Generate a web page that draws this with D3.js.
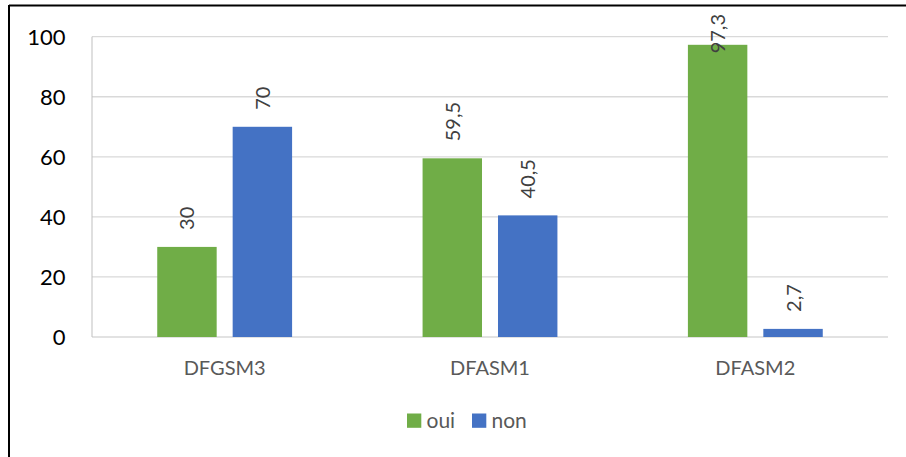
<!DOCTYPE html>
<html><head><meta charset="utf-8">
<script src="https://cdn.jsdelivr.net/npm/d3@7"></script>
<style>body{margin:0;background:#fff}svg{display:block}</style>
</head><body>
<script>
const categories = ["DFGSM3", "DFASM1", "DFASM2"];
const seriesNames = ["oui", "non"];
const oui = [30, 59.5, 97.3];
const non = [70, 40.5, 2.7];
const yTicks = [0, 20, 40, 60, 80, 100];
const colors = ["#70AD47", "#4472C4"];

(function () {
const W = 906, H = 457;
const svg = d3.select("body").append("svg").attr("width", W).attr("height", H);
const font = "Lato, 'Open Sans', sans-serif";

// outer border
svg.append("line").attr("x1", 9).attr("x2", W).attr("y1", 5.5).attr("y2", 5.5).attr("stroke", "#000").attr("stroke-width", 2);
svg.append("line").attr("x1", 9).attr("x2", 9).attr("y1", 5).attr("y2", H).attr("stroke", "#000").attr("stroke-width", 2);

const pl = 92, pr = 888, pt = 36.7, pb = 337;
const x0 = d3.scaleBand().domain(categories).range([pl, pr]);
const x1 = d3.scaleBand().domain(seriesNames).range([0, x0.bandwidth()]).paddingInner(0.212).paddingOuter(0.865);
const y = d3.scaleLinear().domain([0, 100]).range([pb, pt]);

// gridlines
svg.append("g").selectAll("line").data(yTicks).join("line")
  .attr("x1", pl).attr("x2", pr).attr("y1", d => y(d)).attr("y2", d => y(d))
  .attr("stroke", "#D9D9D9").attr("stroke-width", 1.3);
svg.append("line").attr("x1", pl).attr("x2", pl).attr("y1", pt).attr("y2", pb).attr("stroke", "#BFBFBF").attr("stroke-width", 1);

// y tick labels
svg.append("g").selectAll("text").data(yTicks).join("text")
  .attr("x", 65.5).attr("y", d => y(d)).attr("dy", "0.36em").attr("text-anchor", "end")
  .attr("font-family", font).attr("font-size", 22).attr("fill", "#000").text(d => d);

const series = [oui, non];
const g = svg.append("g");
categories.forEach((c, i) => {
  seriesNames.forEach((s, j) => {
    const v = series[j][i];
    const bx = x0(c) + x1(s);
    g.append("rect").attr("x", bx).attr("y", y(v)).attr("width", x1.bandwidth()).attr("height", y(0) - y(v)).attr("fill", colors[j]);
  });
});
categories.forEach((c, i) => {
  seriesNames.forEach((s, j) => {
    const v = series[j][i];
    const bx = x0(c) + x1(s);
    const cx = bx + x1.bandwidth() / 2;
    const t = g.append("text")
      .attr("font-family", font).attr("font-size", 20).attr("fill", "#404040")
      .text(String(v).replace(".", ","));
    const len = t.node().getComputedTextLength();
    const start = Math.max(y(v) - 17, 14 + len);
    t.attr("transform", `translate(${cx + 7.5},${start}) rotate(-90)`);
  });
});

// category labels
svg.append("g").selectAll("text").data(categories).join("text")
  .attr("x", d => x0(d) + x0.bandwidth() / 2).attr("y", 375).attr("text-anchor", "middle")
  .attr("font-family", font).attr("font-size", 20).attr("fill", "#595959").text(d => d);

// legend
const legX = [407, 472];
const lg = svg.append("g");
seriesNames.forEach((s, j) => {
  lg.append("rect").attr("x", legX[j]).attr("y", 413.5).attr("width", 14.3).attr("height", 14.3).attr("fill", colors[j]);
  lg.append("text").attr("x", legX[j] + 19.5).attr("y", 427.5).attr("font-family", font).attr("font-size", 21).attr("fill", "#595959").text(s);
});
})();
</script>
</body></html>
